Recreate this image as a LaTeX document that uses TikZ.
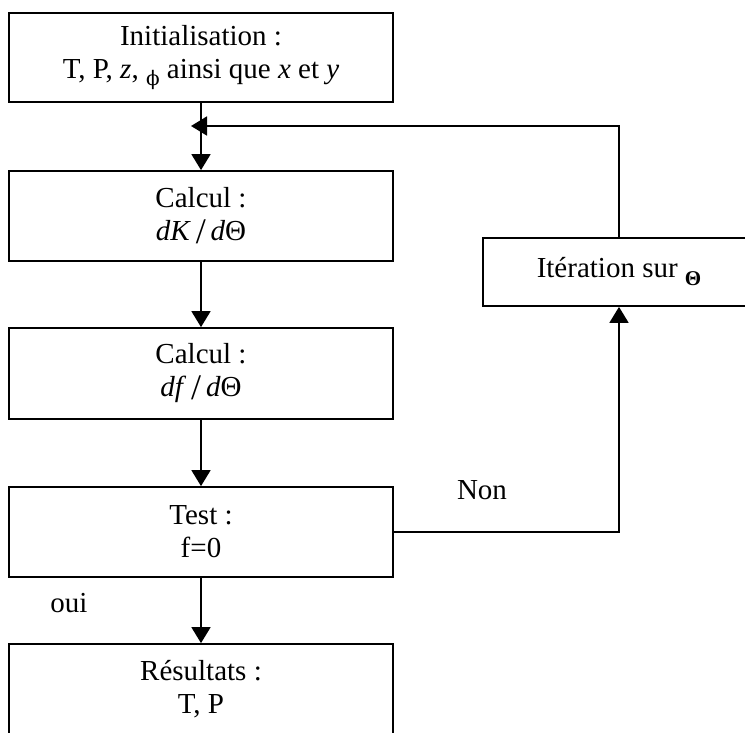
\documentclass[tikz,border=0pt]{standalone}
\usepackage{fontspec}
\setmainfont{Liberation Serif}
\newfontfamily\grkfont{DejaVu Serif}
\usetikzlibrary{arrows.meta, calc}
\newcommand{\bigslash}{\,\raisebox{-3pt}{\fontsize{36}{36}\selectfont/}\,}
\tikzset{
  every picture/.style={line width=1.8pt},
  box/.style={draw, align=center, minimum width=384pt, minimum height=90pt, inner sep=2pt, font=\fontsize{29}{33}\selectfont},
  arrow/.style={-{Triangle[length=16pt, width=19pt]}, line width=1.8pt},
  lbl/.style={font=\fontsize{29}{33}\selectfont},
}

\begin{document}
\begin{tikzpicture}[x=1pt, y=-1pt]
  \useasboundingbox (0,0) rectangle (745,732);
  \node[box, minimum height=89pt] (init) at (201,57.5) {Initialisation :\\T, P, \textit{z}, \raisebox{-7pt}{\fontsize{20}{20}\grkfont ϕ} ainsi que \textit{x} et \textit{y}};
  \node[box] (calc1) at (201,216) {Calcul :\\\textit{dK}\bigslash\textit{d}Θ};
  \node[box, minimum height=91pt] (calc2) at (201,373.5) {Calcul :\\\textit{df}\bigslash\textit{d}Θ};
  \node[box] (test) at (201,532) {Test :\\f=0};
  \node[box] (res) at (201,689) {Résultats :\\T, P};
  \node[box, minimum width=272pt, minimum height=68pt] (iter) at (619,272) {Itération sur \raisebox{-8pt}{\fontsize{21}{21}\selectfont\bfseries Θ}};
  \node[lbl] (non) at (482,490) {Non};
  \node[lbl] (oui) at (69,603) {oui};
  \coordinate (m) at (201,126);
  \foreach \a/\b in {init/calc1, calc1/calc2, calc2/test, test/res} \draw[arrow] (\a) -- (\b);
  \draw[arrow] (test) -| (iter);
  \draw[arrow, shorten >=-10pt] (iter) |- (m);
\end{tikzpicture}
\end{document}
